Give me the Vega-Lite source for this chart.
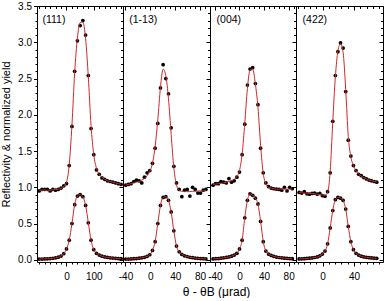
{
"$schema": "https://vega.github.io/schema/vega-lite/v6.json",
"padding": {"left": 0, "top": 0, "right": 1, "bottom": 0},
"spacing": 0,
"bounds": "flush",
"config": {
  "view": {"stroke": "black", "strokeWidth": 1},
  "font": "Liberation Sans",
  "axis": {"grid": false, "domain": false, "tickColor": "black", "tickWidth": 1, "labelFont": "'Liberation Sans Narrow', 'Liberation Sans', sans-serif", "labelFontSize": 10, "labelColor": "black", "titleFont": "Liberation Sans", "titleFontSize": 12, "titleFontWeight": "normal", "titleColor": "black", "labelFlush": false, "labelOverlap": false}
},
"datasets": {
"p1": [
{"theta":-100,"refl":0.010,"yield":0.95,"fit":0.96},
{"theta":-90,"refl":0.011,"yield":0.97,"fit":0.96},
{"theta":-80,"refl":0.012,"yield":0.97,"fit":0.96},
{"theta":-70,"refl":0.014,"yield":0.97,"fit":0.96},
{"theta":-60,"refl":0.017,"yield":0.95,"fit":0.96},
{"theta":-50,"refl":0.021,"yield":0.97,"fit":0.965},
{"theta":-40,"refl":0.027,"yield":0.96,"fit":0.97},
{"theta":-30,"refl":0.036,"yield":0.97,"fit":0.975},
{"theta":-20,"refl":0.052,"yield":0.99,"fit":0.985},
{"theta":-10,"refl":0.085,"yield":1.02,"fit":1.01},
{"theta":0,"refl":0.15,"yield":1.05,"fit":1.07},
{"theta":10,"refl":0.27,"yield":1.30,"fit":1.31},
{"theta":20,"refl":0.50,"yield":1.84,"fit":1.86},
{"theta":30,"refl":0.76,"yield":2.60,"fit":2.58},
{"theta":40,"refl":0.88,"yield":3.02,"fit":3.06},
{"theta":50,"refl":0.90,"yield":3.23,"fit":3.27},
{"theta":60,"refl":0.87,"yield":3.30,"fit":3.28},
{"theta":70,"refl":0.75,"yield":3.10,"fit":3.05},
{"theta":80,"refl":0.51,"yield":2.54,"fit":2.52},
{"theta":90,"refl":0.27,"yield":1.81,"fit":1.85},
{"theta":100,"refl":0.14,"yield":1.45,"fit":1.45},
{"theta":110,"refl":0.09,"yield":1.24,"fit":1.26},
{"theta":120,"refl":0.065,"yield":1.18,"fit":1.18},
{"theta":130,"refl":0.05,"yield":1.13,"fit":1.14},
{"theta":140,"refl":0.04,"yield":1.11,"fit":1.11},
{"theta":150,"refl":0.033,"yield":1.09,"fit":1.09},
{"theta":160,"refl":0.028,"yield":1.08,"fit":1.08},
{"theta":170,"refl":0.024,"yield":1.07,"fit":1.07},
{"theta":180,"refl":0.021,"yield":1.06,"fit":1.06},
{"theta":190,"refl":0.018,"yield":1.05,"fit":1.05},
{"theta":200,"refl":0.016,"yield":1.04,"fit":1.045}
],
"p2": [
{"theta":-39.6,"refl":0.010,"yield":1.03,"fit":1.03},
{"theta":-35.3,"refl":0.011,"yield":1.04,"fit":1.04},
{"theta":-31.0,"refl":0.013,"yield":1.05,"fit":1.05},
{"theta":-26.7,"refl":0.015,"yield":1.08,"fit":1.06},
{"theta":-22.4,"refl":0.018,"yield":1.10,"fit":1.07},
{"theta":-18.1,"refl":0.022,"yield":1.09,"fit":1.08},
{"theta":-13.8,"refl":0.027,"yield":1.06,"fit":1.10},
{"theta":-9.5,"refl":0.035,"yield":1.14,"fit":1.12},
{"theta":-5.2,"refl":0.048,"yield":1.20,"fit":1.16},
{"theta":-0.9,"refl":0.07,"yield":1.23,"fit":1.22},
{"theta":3.4,"refl":0.13,"yield":1.33,"fit":1.33},
{"theta":7.7,"refl":0.25,"yield":1.54,"fit":1.56},
{"theta":12.0,"refl":0.50,"yield":1.88,"fit":1.93},
{"theta":16.3,"refl":0.75,"yield":2.37,"fit":2.38},
{"theta":20.6,"refl":0.86,"yield":2.69,"fit":2.63},
{"theta":24.9,"refl":0.87,"yield":2.50,"fit":2.54},
{"theta":29.2,"refl":0.82,"yield":2.29,"fit":2.22},
{"theta":33.5,"refl":0.66,"yield":1.82,"fit":1.73},
{"theta":37.8,"refl":0.40,"yield":1.29,"fit":1.27},
{"theta":42.1,"refl":0.19,"yield":1.06,"fit":1.03},
{"theta":46.4,"refl":0.11,"yield":0.97,"fit":0.96},
{"theta":50.7,"refl":0.075,"yield":0.87,"fit":0.945},
{"theta":55.0,"refl":0.055,"yield":0.96,"fit":0.94},
{"theta":59.3,"refl":0.045,"yield":0.97,"fit":0.94},
{"theta":63.6,"refl":0.035,"yield":0.88,"fit":0.94},
{"theta":67.9,"refl":0.03,"yield":1.00,"fit":0.945},
{"theta":72.2,"refl":0.025,"yield":0.97,"fit":0.945},
{"theta":76.5,"refl":0.02,"yield":0.92,"fit":0.95},
{"theta":80.8,"refl":0.018,"yield":0.92,"fit":0.95},
{"theta":85.1,"refl":0.015,"yield":0.96,"fit":0.95},
{"theta":89.4,"refl":0.013,"yield":0.97,"fit":0.955}
],
"p3": [
{"theta":-43.0,"refl":0.012,"yield":1.03,"fit":1.04},
{"theta":-38.7,"refl":0.015,"yield":1.05,"fit":1.045},
{"theta":-34.4,"refl":0.018,"yield":1.05,"fit":1.05},
{"theta":-30.1,"refl":0.022,"yield":1.08,"fit":1.055},
{"theta":-25.8,"refl":0.027,"yield":1.07,"fit":1.06},
{"theta":-21.5,"refl":0.033,"yield":1.06,"fit":1.07},
{"theta":-17.2,"refl":0.04,"yield":1.12,"fit":1.08},
{"theta":-12.9,"refl":0.05,"yield":1.07,"fit":1.09},
{"theta":-8.6,"refl":0.065,"yield":1.09,"fit":1.11},
{"theta":-4.3,"refl":0.09,"yield":1.14,"fit":1.15},
{"theta":0.0,"refl":0.15,"yield":1.21,"fit":1.23},
{"theta":4.3,"refl":0.27,"yield":1.45,"fit":1.46},
{"theta":8.6,"refl":0.58,"yield":1.87,"fit":1.88},
{"theta":12.9,"refl":0.82,"yield":2.41,"fit":2.36},
{"theta":17.2,"refl":0.91,"yield":2.63,"fit":2.62},
{"theta":21.5,"refl":0.89,"yield":2.65,"fit":2.63},
{"theta":25.8,"refl":0.85,"yield":2.43,"fit":2.43},
{"theta":30.1,"refl":0.77,"yield":2.14,"fit":2.10},
{"theta":34.4,"refl":0.53,"yield":1.54,"fit":1.58},
{"theta":38.7,"refl":0.25,"yield":1.20,"fit":1.19},
{"theta":43.0,"refl":0.12,"yield":1.06,"fit":1.05},
{"theta":47.3,"refl":0.08,"yield":1.01,"fit":1.00},
{"theta":51.6,"refl":0.06,"yield":0.99,"fit":0.99},
{"theta":55.9,"refl":0.047,"yield":0.98,"fit":0.98},
{"theta":60.2,"refl":0.038,"yield":0.975,"fit":0.975},
{"theta":64.5,"refl":0.032,"yield":0.97,"fit":0.975},
{"theta":68.8,"refl":0.027,"yield":0.96,"fit":0.975},
{"theta":73.1,"refl":0.023,"yield":1.00,"fit":0.975},
{"theta":77.4,"refl":0.02,"yield":0.95,"fit":0.975},
{"theta":81.7,"refl":0.018,"yield":1.00,"fit":0.975},
{"theta":86.0,"refl":0.016,"yield":0.98,"fit":0.975}
],
"p4": [
{"theta":-30.0,"refl":0.012,"yield":0.93,"fit":0.925},
{"theta":-26.7,"refl":0.014,"yield":0.92,"fit":0.925},
{"theta":-23.4,"refl":0.016,"yield":0.94,"fit":0.92},
{"theta":-20.1,"refl":0.019,"yield":0.91,"fit":0.92},
{"theta":-16.8,"refl":0.022,"yield":0.905,"fit":0.915},
{"theta":-13.5,"refl":0.026,"yield":0.915,"fit":0.915},
{"theta":-10.2,"refl":0.032,"yield":0.92,"fit":0.91},
{"theta":-6.9,"refl":0.04,"yield":0.905,"fit":0.905},
{"theta":-3.6,"refl":0.055,"yield":0.915,"fit":0.90},
{"theta":-0.3,"refl":0.08,"yield":0.885,"fit":0.895},
{"theta":3.0,"refl":0.12,"yield":0.875,"fit":0.89},
{"theta":6.3,"refl":0.22,"yield":0.94,"fit":0.93},
{"theta":9.6,"refl":0.44,"yield":1.20,"fit":1.22},
{"theta":12.9,"refl":0.68,"yield":1.91,"fit":1.90},
{"theta":16.2,"refl":0.83,"yield":2.54,"fit":2.52},
{"theta":19.5,"refl":0.86,"yield":2.87,"fit":2.88},
{"theta":22.8,"refl":0.85,"yield":2.99,"fit":2.98},
{"theta":26.1,"refl":0.82,"yield":2.92,"fit":2.86},
{"theta":29.4,"refl":0.70,"yield":2.32,"fit":2.35},
{"theta":32.7,"refl":0.46,"yield":1.65,"fit":1.70},
{"theta":36.0,"refl":0.25,"yield":1.43,"fit":1.42},
{"theta":39.3,"refl":0.14,"yield":1.30,"fit":1.30},
{"theta":42.6,"refl":0.09,"yield":1.23,"fit":1.23},
{"theta":45.9,"refl":0.065,"yield":1.18,"fit":1.18},
{"theta":49.2,"refl":0.05,"yield":1.16,"fit":1.155},
{"theta":52.5,"refl":0.04,"yield":1.135,"fit":1.135},
{"theta":55.8,"refl":0.034,"yield":1.115,"fit":1.115},
{"theta":59.1,"refl":0.03,"yield":1.10,"fit":1.10},
{"theta":62.4,"refl":0.026,"yield":1.09,"fit":1.09},
{"theta":65.7,"refl":0.023,"yield":1.08,"fit":1.08},
{"theta":69.0,"refl":0.02,"yield":1.07,"fit":1.075}
]
},
"hconcat": [
{
 "width": 86, "height": 256,
 "data": {"name": "p1"},
 "resolve": {"axis": {"x": "independent", "y": "independent"}},
 "layer": [
  {"mark": {"type": "circle", "size": 14, "color": "black", "opacity": 1},
   "encoding": {
    "x": {"field": "theta", "type": "quantitative", "scale": {"domain": [-108, 207], "nice": false, "zero": false}, "axis": {"orient": "bottom", "values": [0, 100], "tickSize": 4, "labelPadding": 5, "title": null, "labelExpr": "replace(datum.label, '\u2212', '-')"}},
    "y": {"field": "refl", "type": "quantitative", "scale": {"domain": [-0.03, 3.5], "nice": false, "zero": false}, "axis": {"orient": "left", "values": [0, 0.5, 1, 1.5, 2, 2.5, 3, 3.5], "format": ".1f", "tickSize": 3.5, "labelPadding": 2, "title": "Reflectivity & normalized yield", "titleFontSize": 11, "titlePadding": 6}}
   }},
  {"mark": {"type": "circle", "size": 14, "color": "black", "opacity": 1},
   "encoding": {
    "x": {"field": "theta", "type": "quantitative", "scale": {"domain": [-108, 207], "nice": false, "zero": false}, "axis": {"orient": "bottom", "values": [-100, -80, -60, -40, -20, 20, 40, 60, 80, 120, 140, 160, 180, 200], "tickSize": 2, "labels": false, "title": null}},
    "y": {"field": "yield", "type": "quantitative", "scale": {"domain": [-0.03, 3.5], "nice": false, "zero": false}, "axis": {"orient": "left", "values": [0.1,0.2,0.3,0.4,0.6,0.7,0.8,0.9,1.1,1.2,1.3,1.4,1.6,1.7,1.8,1.9,2.1,2.2,2.3,2.4,2.6,2.7,2.8,2.9,3.1,3.2,3.3,3.4], "tickSize": 2, "labels": false, "title": null}}
   }},
  {"mark": {"type": "line", "color": "#cc2a2a", "strokeWidth": 1, "interpolate": "monotone"},
   "encoding": {
    "x": {"field": "theta", "type": "quantitative", "scale": {"domain": [-108, 207], "nice": false, "zero": false}, "axis": {"orient": "top", "values": [0, 100], "tickSize": -4, "labels": false, "title": null}},
    "y": {"field": "refl", "type": "quantitative", "scale": {"domain": [-0.03, 3.5], "nice": false, "zero": false}, "axis": {"orient": "right", "values": [0, 0.5, 1, 1.5, 2, 2.5, 3, 3.5], "tickSize": -4, "labels": false, "title": null}}
   }},
  {"mark": {"type": "line", "color": "#cc2a2a", "strokeWidth": 1, "interpolate": "monotone"},
   "encoding": {
    "x": {"field": "theta", "type": "quantitative", "scale": {"domain": [-108, 207], "nice": false, "zero": false}, "axis": {"orient": "top", "values": [-100, -80, -60, -40, -20, 20, 40, 60, 80, 120, 140, 160, 180, 200], "tickSize": -2.5, "labels": false, "title": null}},
    "y": {"field": "fit", "type": "quantitative", "scale": {"domain": [-0.03, 3.5], "nice": false, "zero": false}, "axis": {"orient": "right", "values": [0.1,0.2,0.3,0.4,0.6,0.7,0.8,0.9,1.1,1.2,1.3,1.4,1.6,1.7,1.8,1.9,2.1,2.2,2.3,2.4,2.6,2.7,2.8,2.9,3.1,3.2,3.3,3.4], "tickSize": -2.5, "labels": false, "title": null}}
   }},
  {"data": {"values": [{"label": "(111)"}]},
   "mark": {"type": "text", "align": "left", "baseline": "middle", "fontSize": 10.5, "font": "Liberation Sans", "color": "black"},
   "encoding": {
    "text": {"field": "label"},
    "x": {"datum": -88, "type": "quantitative", "scale": {"domain": [-108, 207], "nice": false, "zero": false}, "axis": null},
    "y": {"datum": 3.307, "type": "quantitative", "scale": {"domain": [-0.03, 3.5], "nice": false, "zero": false}, "axis": null}
   }}
 ]
},
{
 "width": 87, "height": 256,
 "data": {"name": "p2"},
 "resolve": {"axis": {"x": "independent", "y": "independent"}},
 "layer": [
  {"mark": {"type": "circle", "size": 14, "color": "black", "opacity": 1},
   "encoding": {
    "x": {"field": "theta", "type": "quantitative", "scale": {"domain": [-44, 96], "nice": false, "zero": false}, "axis": {"orient": "bottom", "values": [-40, 0, 40, 80], "tickSize": 4, "labelPadding": 5, "title": null, "labelExpr": "replace(datum.label, '\u2212', '-')"}},
    "y": {"field": "refl", "type": "quantitative", "scale": {"domain": [-0.03, 3.5], "nice": false, "zero": false}, "axis": null}
   }},
  {"mark": {"type": "circle", "size": 14, "color": "black", "opacity": 1},
   "encoding": {
    "x": {"field": "theta", "type": "quantitative", "scale": {"domain": [-44, 96], "nice": false, "zero": false}, "axis": {"orient": "bottom", "values": [-32, -24, -16, -8, 8, 16, 24, 32, 48, 56, 64, 72, 88], "tickSize": 2, "labels": false, "title": null}},
    "y": {"field": "yield", "type": "quantitative", "scale": {"domain": [-0.03, 3.5], "nice": false, "zero": false}, "axis": null}
   }},
  {"mark": {"type": "line", "color": "#cc2a2a", "strokeWidth": 1, "interpolate": "monotone"},
   "encoding": {
    "x": {"field": "theta", "type": "quantitative", "scale": {"domain": [-44, 96], "nice": false, "zero": false}, "axis": {"orient": "top", "values": [-40, 0, 40, 80], "tickSize": -4, "labels": false, "title": null}},
    "y": {"field": "refl", "type": "quantitative", "scale": {"domain": [-0.03, 3.5], "nice": false, "zero": false}, "axis": {"orient": "right", "values": [0, 0.5, 1, 1.5, 2, 2.5, 3, 3.5], "tickSize": -4, "labels": false, "title": null}}
   }},
  {"mark": {"type": "line", "color": "#cc2a2a", "strokeWidth": 1, "interpolate": "monotone"},
   "encoding": {
    "x": {"field": "theta", "type": "quantitative", "scale": {"domain": [-44, 96], "nice": false, "zero": false}, "axis": {"orient": "top", "values": [-32, -24, -16, -8, 8, 16, 24, 32, 48, 56, 64, 72, 88], "tickSize": -2.5, "labels": false, "title": null}},
    "y": {"field": "fit", "type": "quantitative", "scale": {"domain": [-0.03, 3.5], "nice": false, "zero": false}, "axis": {"orient": "right", "values": [0.1,0.2,0.3,0.4,0.6,0.7,0.8,0.9,1.1,1.2,1.3,1.4,1.6,1.7,1.8,1.9,2.1,2.2,2.3,2.4,2.6,2.7,2.8,2.9,3.1,3.2,3.3,3.4], "tickSize": -2.5, "labels": false, "title": null}}
   }},
  {"data": {"values": [{"label": "(1-13)"}]},
   "mark": {"type": "text", "align": "left", "baseline": "middle", "fontSize": 10.5, "font": "Liberation Sans", "color": "black"},
   "encoding": {
    "text": {"field": "label"},
    "x": {"datum": -34, "type": "quantitative", "scale": {"domain": [-44, 96], "nice": false, "zero": false}, "axis": null},
    "y": {"datum": 3.307, "type": "quantitative", "scale": {"domain": [-0.03, 3.5], "nice": false, "zero": false}, "axis": null}
   }}
 ]
},
{
 "width": 86, "height": 256,
 "data": {"name": "p3"},
 "resolve": {"axis": {"x": "independent", "y": "independent"}},
 "layer": [
  {"mark": {"type": "circle", "size": 14, "color": "black", "opacity": 1},
   "encoding": {
    "x": {"field": "theta", "type": "quantitative", "scale": {"domain": [-48, 92], "nice": false, "zero": false}, "axis": {"orient": "bottom", "values": [-40, 0, 40, 80], "tickSize": 4, "labelPadding": 5, "labelExpr": "replace(datum.label, '\u2212', '-')", "title": "θ - θB (μrad)", "titleX": 6, "titleAlign": "center", "titlePadding": 5}},
    "y": {"field": "refl", "type": "quantitative", "scale": {"domain": [-0.03, 3.5], "nice": false, "zero": false}, "axis": null}
   }},
  {"mark": {"type": "circle", "size": 14, "color": "black", "opacity": 1},
   "encoding": {
    "x": {"field": "theta", "type": "quantitative", "scale": {"domain": [-48, 92], "nice": false, "zero": false}, "axis": {"orient": "bottom", "values": [-32, -24, -16, -8, 8, 16, 24, 32, 48, 56, 64, 72, 88], "tickSize": 2, "labels": false, "title": null}},
    "y": {"field": "yield", "type": "quantitative", "scale": {"domain": [-0.03, 3.5], "nice": false, "zero": false}, "axis": null}
   }},
  {"mark": {"type": "line", "color": "#cc2a2a", "strokeWidth": 1, "interpolate": "monotone"},
   "encoding": {
    "x": {"field": "theta", "type": "quantitative", "scale": {"domain": [-48, 92], "nice": false, "zero": false}, "axis": {"orient": "top", "values": [-40, 0, 40, 80], "tickSize": -4, "labels": false, "title": null}},
    "y": {"field": "refl", "type": "quantitative", "scale": {"domain": [-0.03, 3.5], "nice": false, "zero": false}, "axis": {"orient": "right", "values": [0, 0.5, 1, 1.5, 2, 2.5, 3, 3.5], "tickSize": -4, "labels": false, "title": null}}
   }},
  {"mark": {"type": "line", "color": "#cc2a2a", "strokeWidth": 1, "interpolate": "monotone"},
   "encoding": {
    "x": {"field": "theta", "type": "quantitative", "scale": {"domain": [-48, 92], "nice": false, "zero": false}, "axis": {"orient": "top", "values": [-32, -24, -16, -8, 8, 16, 24, 32, 48, 56, 64, 72, 88], "tickSize": -2.5, "labels": false, "title": null}},
    "y": {"field": "fit", "type": "quantitative", "scale": {"domain": [-0.03, 3.5], "nice": false, "zero": false}, "axis": {"orient": "right", "values": [0.1,0.2,0.3,0.4,0.6,0.7,0.8,0.9,1.1,1.2,1.3,1.4,1.6,1.7,1.8,1.9,2.1,2.2,2.3,2.4,2.6,2.7,2.8,2.9,3.1,3.2,3.3,3.4], "tickSize": -2.5, "labels": false, "title": null}}
   }},
  {"data": {"values": [{"label": "(004)"}]},
   "mark": {"type": "text", "align": "left", "baseline": "middle", "fontSize": 10.5, "font": "Liberation Sans", "color": "black"},
   "encoding": {
    "text": {"field": "label"},
    "x": {"datum": -37.3, "type": "quantitative", "scale": {"domain": [-48, 92], "nice": false, "zero": false}, "axis": null},
    "y": {"datum": 3.307, "type": "quantitative", "scale": {"domain": [-0.03, 3.5], "nice": false, "zero": false}, "axis": null}
   }}
 ]
},
{
 "width": 87, "height": 256,
 "data": {"name": "p4"},
 "resolve": {"axis": {"x": "independent", "y": "independent"}},
 "layer": [
  {"mark": {"type": "circle", "size": 14, "color": "black", "opacity": 1},
   "encoding": {
    "x": {"field": "theta", "type": "quantitative", "scale": {"domain": [-34, 77], "nice": false, "zero": false}, "axis": {"orient": "bottom", "values": [0, 40], "tickSize": 4, "labelPadding": 5, "title": null, "labelExpr": "replace(datum.label, '\u2212', '-')"}},
    "y": {"field": "refl", "type": "quantitative", "scale": {"domain": [-0.03, 3.5], "nice": false, "zero": false}, "axis": null}
   }},
  {"mark": {"type": "circle", "size": 14, "color": "black", "opacity": 1},
   "encoding": {
    "x": {"field": "theta", "type": "quantitative", "scale": {"domain": [-34, 77], "nice": false, "zero": false}, "axis": {"orient": "bottom", "values": [-32, -24, -16, -8, 8, 16, 24, 32, 48, 56, 64, 72], "tickSize": 2, "labels": false, "title": null}},
    "y": {"field": "yield", "type": "quantitative", "scale": {"domain": [-0.03, 3.5], "nice": false, "zero": false}, "axis": null}
   }},
  {"mark": {"type": "line", "color": "#cc2a2a", "strokeWidth": 1, "interpolate": "monotone"},
   "encoding": {
    "x": {"field": "theta", "type": "quantitative", "scale": {"domain": [-34, 77], "nice": false, "zero": false}, "axis": {"orient": "top", "values": [0, 40], "tickSize": -4, "labels": false, "title": null}},
    "y": {"field": "refl", "type": "quantitative", "scale": {"domain": [-0.03, 3.5], "nice": false, "zero": false}, "axis": {"orient": "right", "values": [0, 0.5, 1, 1.5, 2, 2.5, 3, 3.5], "tickSize": -4, "labels": false, "title": null}}
   }},
  {"mark": {"type": "line", "color": "#cc2a2a", "strokeWidth": 1, "interpolate": "monotone"},
   "encoding": {
    "x": {"field": "theta", "type": "quantitative", "scale": {"domain": [-34, 77], "nice": false, "zero": false}, "axis": {"orient": "top", "values": [-32, -24, -16, -8, 8, 16, 24, 32, 48, 56, 64, 72], "tickSize": -2.5, "labels": false, "title": null}},
    "y": {"field": "fit", "type": "quantitative", "scale": {"domain": [-0.03, 3.5], "nice": false, "zero": false}, "axis": {"orient": "right", "values": [0.1,0.2,0.3,0.4,0.6,0.7,0.8,0.9,1.1,1.2,1.3,1.4,1.6,1.7,1.8,1.9,2.1,2.2,2.3,2.4,2.6,2.7,2.8,2.9,3.1,3.2,3.3,3.4], "tickSize": -2.5, "labels": false, "title": null}}
   }},
  {"data": {"values": [{"label": "(422)"}]},
   "mark": {"type": "text", "align": "left", "baseline": "middle", "fontSize": 10.5, "font": "Liberation Sans", "color": "black"},
   "encoding": {
    "text": {"field": "label"},
    "x": {"datum": -25.6, "type": "quantitative", "scale": {"domain": [-34, 77], "nice": false, "zero": false}, "axis": null},
    "y": {"datum": 3.307, "type": "quantitative", "scale": {"domain": [-0.03, 3.5], "nice": false, "zero": false}, "axis": null}
   }}
 ]
}
]
}
